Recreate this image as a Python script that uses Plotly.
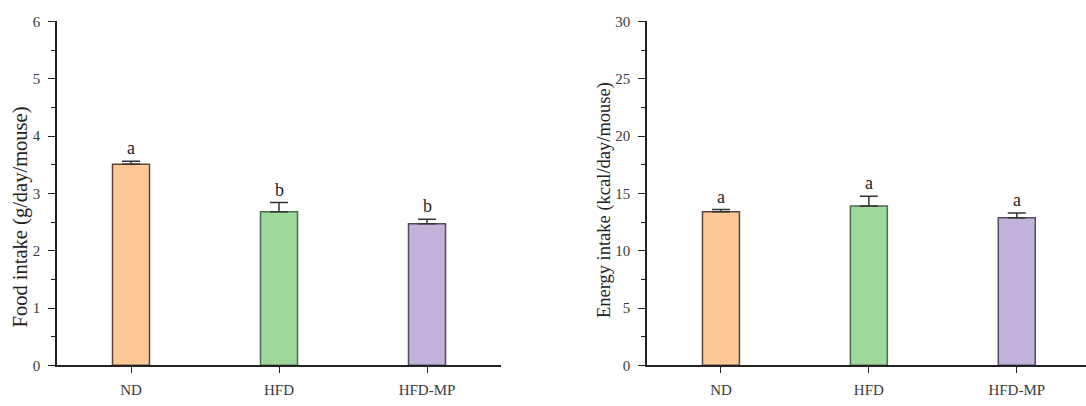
import plotly.graph_objects as go

categories = ["ND", "HFD", "HFD-MP"]
food_intake = [3.51, 2.68, 2.47]
food_err = [0.05, 0.16, 0.08]
food_letters = ["a", "b", "b"]
energy_intake = [13.39, 13.91, 12.88]
energy_err = [0.20, 0.84, 0.42]
energy_letters = ["a", "a", "a"]
fill_colors = ["#FFC896", "#9ED89B", "#C2B3DA"]
line_colors = ["#5A4438", "#4E6A4E", "#504A60"]

W, H = 1086, 406
FONT = "Liberation Serif"

fig = go.Figure()

def add_panel(vals, errs, xa, ya):
    fig.add_trace(go.Bar(
        x=[0, 1, 2], y=vals, width=0.25,
        marker=dict(color=fill_colors, line=dict(color=line_colors, width=1.5)),
        error_y=dict(type="data", array=errs, symmetric=False, arrayminus=[0]*len(errs),
                     color="#333333", thickness=1.5, width=9),
        xaxis=xa, yaxis=ya, showlegend=False))

add_panel(food_intake, food_err, "x", "y")
add_panel(energy_intake, energy_err, "x2", "y2")

y0 = (H - 372) / H
y1 = (H - 14) / H

axis_common = dict(showline=True, linecolor="#222222", linewidth=1.5, showgrid=False,
                   zeroline=False, ticks="outside", tickcolor="#222222", tickwidth=1.2,
                   tickfont=dict(family=FONT, size=15, color="#3a3a3a"))

xcommon = dict(ticklen=6, ticklabelstandoff=4, **axis_common)
ycommon = dict(ticklen=7, ticklabelstandoff=5, **axis_common)

fig.update_layout(
    width=W, height=H, margin=dict(l=0, r=0, t=0, b=0),
    paper_bgcolor="white", plot_bgcolor="white",
    font=dict(family=FONT),
    xaxis=dict(domain=[57/W, 501/W], range=[-0.5, 2.5], tickvals=[0, 1, 2], ticktext=categories,
               anchor="y", **xcommon),
    yaxis=dict(domain=[y0, y1], range=[0, 6], tickvals=[0, 1, 2, 3, 4, 5, 6],
               minor=dict(tickvals=[0.5, 1.5, 2.5, 3.5, 4.5, 5.5], ticklen=4, ticks="outside",
                          tickcolor="#222222"),
               anchor="x", **ycommon),
    xaxis2=dict(domain=[647/W, 1.0], range=[-0.5, 2.468], tickvals=[0, 1, 2], ticktext=categories,
                anchor="y2", **xcommon),
    yaxis2=dict(domain=[y0, y1], range=[0, 30], tickvals=[0, 5, 10, 15, 20, 25, 30],
                minor=dict(tickvals=[2.5, 7.5, 12.5, 17.5, 22.5, 27.5], ticklen=4, ticks="outside",
                           tickcolor="#222222"),
                anchor="x2", **ycommon),
)

annotations = []
for i, (v, e, t) in enumerate(zip(food_intake, food_err, food_letters)):
    annotations.append(dict(x=i, y=v + e, xref="x", yref="y", text=t, showarrow=False,
                            yanchor="bottom", yshift=1, font=dict(family=FONT, size=18, color="#222222")))
for i, (v, e, t) in enumerate(zip(energy_intake, energy_err, energy_letters)):
    annotations.append(dict(x=i, y=v + e, xref="x2", yref="y2", text=t, showarrow=False,
                            yanchor="bottom", yshift=1, font=dict(family=FONT, size=18, color="#222222")))

annotations.append(dict(x=20/W, y=(H-218)/H, xref="paper", yref="paper", text="Food intake (g/day/mouse)",
                        textangle=-90, showarrow=False, xanchor="center", yanchor="middle",
                        font=dict(family=FONT, size=20.5, color="#222222")))
annotations.append(dict(x=604/W, y=(H-200)/H, xref="paper", yref="paper", text="Energy intake (kcal/day/mouse)",
                        textangle=-90, showarrow=False, xanchor="center", yanchor="middle",
                        font=dict(family=FONT, size=18.5, color="#222222")))
fig.update_layout(annotations=annotations)

fig.write_html("out.html")
